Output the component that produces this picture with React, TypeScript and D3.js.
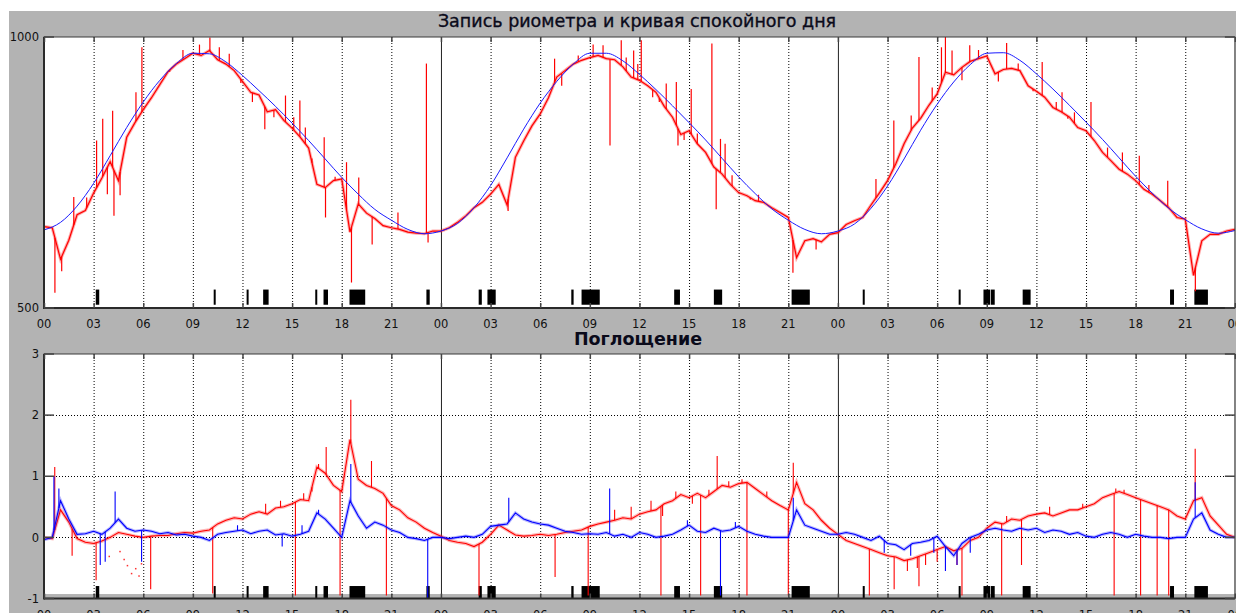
import React from "react";
import * as d3 from "d3";

// ---------- data ----------
const STEP = 0.5; // hours between samples
const tickHours = [0, 3, 6, 9, 12, 15, 18, 21, 24, 27, 30, 33, 36, 39, 42, 45, 48, 51, 54, 57, 60, 63, 66, 69, 72];
const tickLabels = ["00", "03", "06", "09", "12", "15", "18", "21", "00", "03", "06", "09", "12", "15", "18", "21", "00", "03", "06", "09", "12", "15", "18", "21", "00"];
const dayBounds = [24, 48];

// quiet-day curve, hourly values
const quietDay = [
  644, 658, 688, 730, 781, 833, 880, 920, 951, 970, 969, 954, 929, 901, 872, 841, 809, 775, 741, 710, 682, 662, 645, 637,
  642, 656, 685, 726, 777, 830, 878, 918, 950, 970, 970, 956, 931, 903, 873, 842, 810, 776, 742, 711, 683, 662, 645, 637,
  642, 655, 684, 725, 775, 828, 876, 917, 949, 970, 971, 957, 932, 904, 874, 843, 811, 777, 743, 712, 684, 663, 646, 638, 643,
];

// riometer record, every 0.5 h
const riometer = [
  650, 648, 590, 625, 672, 680, 712, 740, 770, 735, 815, 842, 866, 888, 912, 936, 950, 960, 970, 966, 975, 958, 950, 938,
  918, 898, 893, 862, 866, 846, 832, 815, 795, 728, 722, 735, 738, 640, 692, 675, 665, 652, 648, 645, 640, 638, 637, 642,
  642, 648, 658, 670, 685, 695, 710, 728, 690, 778, 808, 836, 858, 888, 926, 938, 950, 957, 962, 966, 960, 958, 945, 926,
  920, 910, 898, 872, 852, 820, 827, 803, 787, 760, 747, 728, 713, 707, 698, 695, 685, 676, 667, 593, 624, 628, 622, 636,
  639, 654, 661, 667, 690, 712, 735, 766, 803, 832, 850, 874, 895, 935, 930, 944, 955, 960, 965, 932, 940, 942, 938, 910,
  900, 889, 870, 862, 852, 833, 827, 809, 787, 772, 756, 747, 735, 719, 710, 698, 685, 667, 664, 560, 624, 636, 636, 642, 645,
];
const rioSpikeHours = [
  0.66, 1.07, 3.18, 3.55, 3.83, 4.15, 4.23, 5.56, 5.92, 10.03, 13.35, 14.6, 15.47, 15.8, 16.94, 17.02, 18.29, 18.59, 19.03,
  19.84, 21.4, 23.12, 23.22, 28.06, 30.87, 34.22, 34.9, 35.65, 36.11, 37.62, 38.23, 38.33, 39.13, 40.38, 40.64, 40.9, 41.18,
  45.28, 46.68, 50.3, 51.38, 52.43, 52.9, 53.7, 54.26, 54.5, 55.97, 58.2, 60.35, 61.55, 63.3, 65.2, 66.22, 67.94, 69.61,
  1.8, 2.58, 4.6, 7.6, 8.4, 9.4, 10.6, 11.2, 11.9, 12.6, 13.9, 15.1, 16.2, 17.6,
  31.3, 32.3, 33.2, 33.8, 35.2, 35.9, 36.8, 37.2, 38.7, 39.5, 41.6, 42.7, 43.2,
  54.9, 55.5, 56.5, 57.7, 58.9, 59.8, 61.2, 61.9, 62.3, 64.3, 66.8,
];
const rioSpikeValues = [
  528, 568, 809, 849, 710, 864, 670, 898, 981, 999, 830, 892, 883, 833, 815, 667, 769, 547, 741,
  617, 676, 951, 621, 679, 960, 800, 994, 975, 994, 914, 917, 800, 904, 988, 682, 812, 803,
  565, 608, 738, 846, 855, 963, 907, 981, 1000, 985, 989, 954, 898, 880, 787, 781, 735, 531,
  705, 704, 708, 936, 976, 986, 981, 969, 915, 880, 852, 852, 776, 742,
  910, 966, 986, 985, 962, 950, 889, 880, 810, 822, 745, 700, 709,
  975, 920, 976, 918, 951, 900, 880, 849, 861, 796, 727,
];

// absorption, every 0.5 h
const absRed = [
  0.0, -0.02, 0.45, 0.25, -0.02, -0.08, -0.1, -0.06, 0.0, 0.08, 0.05, 0.02, 0.0, 0.02, 0.03, 0.03, 0.06, 0.08, 0.07, 0.1, 0.12, 0.22, 0.28, 0.32,
  0.3, 0.38, 0.42, 0.38, 0.48, 0.5, 0.55, 0.62, 0.6, 1.15, 1.05, 0.85, 0.75, 1.6, 0.95, 0.85, 0.8, 0.72, 0.52, 0.45, 0.32, 0.25, 0.15, 0.08,
  0.02, -0.05, -0.08, -0.1, -0.15, -0.08, 0.05, 0.2, 0.12, 0.04, 0.02, 0.03, 0.05, 0.03, 0.05, 0.08, 0.1, 0.12, 0.18, 0.22, 0.25, 0.28, 0.32, 0.3,
  0.38, 0.42, 0.45, 0.55, 0.6, 0.7, 0.65, 0.72, 0.65, 0.75, 0.85, 0.82, 0.88, 0.9, 0.8, 0.7, 0.6, 0.52, 0.45, 0.9, 0.55, 0.45, 0.28, 0.15,
  0.05, -0.05, -0.1, -0.15, -0.2, -0.25, -0.3, -0.32, -0.38, -0.35, -0.3, -0.25, -0.2, -0.15, -0.22, -0.18, -0.05, 0.0, 0.15, 0.25, 0.22, 0.3, 0.28, 0.35,
  0.38, 0.4, 0.35, 0.4, 0.45, 0.45, 0.5, 0.55, 0.65, 0.7, 0.75, 0.7, 0.65, 0.6, 0.55, 0.5, 0.45, 0.35, 0.3, 0.6, 0.65, 0.35, 0.2, 0.05, 0.0,
];
const absBlue = [
  -0.04, 0.0, 0.6, 0.3, 0.05, 0.06, 0.1, 0.05, 0.15, 0.3, 0.15, 0.1, 0.12, 0.1, 0.06, 0.08, 0.04, 0.05, 0.02, 0.0, -0.05, 0.05, 0.08, 0.1,
  0.12, 0.06, 0.1, 0.12, 0.04, 0.06, 0.02, 0.05, 0.1, 0.4, 0.3, 0.15, 0.0, 0.6, 0.35, 0.15, 0.25, 0.2, 0.12, 0.08, 0.0, -0.02, -0.05, 0.0,
  0.0, -0.02, 0.0, 0.02, 0.0, 0.05, 0.18, 0.2, 0.22, 0.4, 0.3, 0.25, 0.22, 0.2, 0.15, 0.1, 0.08, 0.05, 0.06, 0.05, 0.08, 0.02, 0.05, 0.0,
  0.08, 0.05, 0.0, 0.02, 0.05, 0.12, 0.2, 0.1, 0.08, 0.15, 0.1, 0.12, 0.18, 0.1, 0.05, 0.02, 0.0, 0.0, 0.0, 0.45, 0.2, 0.15, 0.1, 0.05,
  0.05, 0.08, 0.05, 0.0, -0.05, 0.02, -0.1, -0.12, -0.2, -0.1, -0.08, -0.05, 0.02, -0.15, -0.3, -0.1, 0.0, 0.05, 0.12, 0.15, 0.12, 0.1, 0.15, 0.12,
  0.15, 0.08, 0.12, 0.1, 0.05, 0.08, 0.02, 0.0, 0.05, 0.08, 0.05, 0.0, 0.05, 0.02, 0.0, 0.0, -0.02, 0.0, 0.0, 0.3, 0.4, 0.12, 0.05, 0.0, 0.0,
];
const redSpikeHours = [
  0.65, 16.6, 17.06, 18.55, 19.8, 40.7, 45.3, 69.6,
  1.7, 3.15, 6.45, 10.2, 15.2, 17.9, 20.7, 26.3, 30.9, 32.9, 37.3, 39.7, 42.5, 45.0,
  49.9, 51.4, 52.9, 55.5, 57.9, 59.1, 64.7, 66.3, 67.3, 68.0,
  34.5, 35.5, 36.7, 37.4, 38.2, 39.2, 40.2, 41.4, 42.2, 43.7,
  52.2, 52.8, 53.3, 54.0, 55.2, 58.2, 60.8, 62.8, 64.8, 65.3,
  13.4, 14.3, 15.7, 16.2,
];
const redSpikeValues = [
  1.15, 1.2, 1.48, 2.25, 1.25, 1.33, 1.22, 1.45,
  -0.3, -0.7, -0.85, -0.92, -0.95, -0.95, -0.95, -0.95, -0.65, -0.95, -0.95, -0.95, -0.95, -0.95,
  -0.95, -0.85, -0.8, -0.95, -0.95, -0.45, -0.95, -0.95, -0.95, -0.95,
  0.45, 0.5, 0.6, 0.35, 0.75, 0.55, 0.78, 0.92, 0.95, 0.75,
  -0.55, -0.5, -0.45, -0.4, -0.45, 0.35, 0.5, 0.55, 0.8, 0.78,
  0.55, 0.6, 0.72, 0.75,
];
// scattered single red samples below zero (day 1, early morning)
const redDotHours = [4.55, 4.8, 5.0, 5.25, 5.5, 5.7, 5.85, 3.9];
const redDotValues = [-0.22, -0.35, -0.45, -0.58, -0.5, -0.62, -0.42, -0.3];
const blueSpikeHours = [
  0.6, 0.9, 4.3, 16.6, 18.55, 28.1, 34.2, 45.3, 69.6, 3.4, 3.7, 5.9, 23.2, 40.9, 54.5,
  11.7, 14.4, 15.6, 50.8, 52.4, 53.8, 55.2, 56.0, 38.9, 41.8,
];
const blueSpikeValues = [
  1.0, 0.8, 0.75, 0.45, 1.2, 0.65, 0.8, 0.65, 0.9, -0.45, -0.4, -0.4, -1.0, -0.95, -0.55,
  0.2, -0.15, 0.2, -0.25, -0.3, -0.25, -0.45, -0.25, 0.28, 0.25,
];

// marker blocks (hours)
const blockStart = [3.13, 10.26, 12.25, 13.25, 16.4, 16.9, 18.47, 23.12, 26.28, 26.81, 31.88, 32.5, 38.1, 40.5, 45.2, 49.5, 55.3, 56.8, 57.24, 59.17, 68.08, 69.55];
const blockEnd = [3.34, 10.37, 12.37, 13.58, 16.5, 17.17, 19.42, 23.32, 26.47, 27.31, 32.02, 33.6, 38.45, 41.0, 46.3, 49.62, 55.42, 57.2, 57.48, 59.65, 68.32, 70.37];

const title1 = "Запись риометра и кривая спокойного дня";
const title2 = "Поглощение";
const topYTicks = [500, 1000];
const botYTicks = [-1, 0, 1, 2, 3];
const botGrid = [0, 1, 2];

// ---------- layout ----------
const W = 1236, H = 613;
const X0 = 44, PXH = 16.54;
const GRAY = "#b3b3b3";
const FONT = "'DejaVu Sans', Verdana, sans-serif";

const x = d3.scaleLinear().domain([0, 72]).range([X0, X0 + 72 * PXH]);
const yT = d3.scaleLinear().domain([500, 1000]).range([308, 37]);
const yB = d3.scaleLinear().domain([-1, 3]).range([598.5, 354]);

function baseAt(arr: number[], t: number) {
  const f = t / STEP;
  const i = Math.floor(f);
  const a = arr[Math.max(0, Math.min(arr.length - 1, i))];
  const b = arr[Math.max(0, Math.min(arr.length - 1, i + 1))];
  return a + (b - a) * (f - i);
}

function Panel({ y, yTicks, grid, clipId, band, blockLo, blockHi, children, labelY }: any) {
  const [y0, y1] = y.domain();
  const top = y(y1), bot = y(y0);
  const left = x(0), right = x(72);
  return (
    <g>
      <rect x={left} y={top} width={right - left} height={bot - top} fill="#fff" />
      {band && <rect x={left} y={y(band)} width={right - left} height={bot - y(band)} fill={GRAY} />}
      {tickHours.filter(h => h > 0 && h < 72 && !dayBounds.includes(h)).map(h => (
        <line key={"g" + h} x1={x(h) + 0.5} x2={x(h) + 0.5} y1={top} y2={bot} stroke="#000" strokeWidth={1} strokeDasharray="1 2" />
      ))}
      {grid.map((v: number) => (
        <line key={"hg" + v} x1={left} x2={right} y1={Math.round(y(v)) + 0.5} y2={Math.round(y(v)) + 0.5} stroke="#000" strokeWidth={1} strokeDasharray="1 2" />
      ))}
      {dayBounds.map(h => (
        <line key={"d" + h} x1={x(h) + 0.5} x2={x(h) + 0.5} y1={top} y2={bot} stroke="#222" strokeWidth={1} />
      ))}
      {blockStart.map((s, i) => (
        <rect key={"b" + i} x={x(s)} y={y(blockHi)} width={Math.max(2, x(blockEnd[i]) - x(s))} height={y(blockLo) - y(blockHi)} fill="#000" />
      ))}
      <g clipPath={`url(#${clipId})`}>{children}</g>
      <rect x={left} y={top} width={right - left} height={bot - top} fill="none" stroke="#3a3a3a" strokeWidth={1} />
      <line x1={left} x2={left} y1={top} y2={bot + 1} stroke="#2a2a2a" strokeWidth={2} />
      <line x1={left} x2={right} y1={bot} y2={bot} stroke="#2a2a2a" strokeWidth={2} />
      {tickHours.map(h => (
        <g key={"t" + h}>
          <line x1={x(h) + 0.5} x2={x(h) + 0.5} y1={top} y2={top + 5} stroke="#444" strokeWidth={1.5} />
          <line x1={x(h) + 0.5} x2={x(h) + 0.5} y1={bot - 5} y2={bot} stroke="#444" strokeWidth={1.5} />
        </g>
      ))}
      {yTicks.map((v: number) => (
        <g key={"yt" + v}>
          <line x1={left} x2={left + 10} y1={y(v)} y2={y(v)} stroke="#444" strokeWidth={1.5} />
          <line x1={right - 10} x2={right} y1={y(v)} y2={y(v)} stroke="#444" strokeWidth={1.5} />
          <text x={39} y={y(v)} dy="0.36em" textAnchor="end" fontSize={11.5} fontFamily={FONT} fill="#111">{v}</text>
        </g>
      ))}
      {tickHours.map((h, i) => (
        <text key={"xl" + h} x={x(h)} y={labelY} textAnchor="middle" fontSize={11.5} fontFamily={FONT} fill="#111">{tickLabels[i]}</text>
      ))}
    </g>
  );
}

export default function App() {
  const lineT = d3.line<number>().x((_, i) => x(i * STEP)).y(d => yT(d));
  const lineQ = d3.line<number>().x((_, i) => x(i)).y(d => yT(d)).curve(d3.curveMonotoneX);
  const lineB = d3.line<number>().x((_, i) => x(i * STEP)).y(d => yB(d));
  const [bl, br] = [x(0), x(72)];
  return (
    <svg width={W} height={H} style={{ position: "fixed", left: 0, top: 0, background: "#fff" }}>
      <defs>
        <clipPath id="clipT"><rect x={bl} y={yT(1000)} width={br - bl} height={yT(500) - yT(1000)} /></clipPath>
        <clipPath id="clipB"><rect x={bl} y={yB(3)} width={br - bl} height={yB(-1) - yB(3)} /></clipPath>
      </defs>
      <rect x={9} y={11} width={W} height={H} fill={GRAY} />
      <text x={637} y={26.5} textAnchor="middle" fontSize={17.5} fontFamily={FONT} fill="#0a0a1a" stroke="#0a0a1a" strokeWidth={0.35}>{title1}</text>
      <text x={638} y={345} textAnchor="middle" fontSize={17.5} fontWeight="bold" fontFamily={FONT} fill="#0a0a1a">{title2}</text>

      <Panel y={yT} yTicks={topYTicks} grid={[]} clipId="clipT" blockLo={506} blockHi={534} labelY={327.5}>
        <path d={lineT(riometer) || ""} fill="none" stroke="#ff3030" strokeWidth={3.2} strokeOpacity={0.4} />
        <path d={lineT(riometer) || ""} fill="none" stroke="#ff0000" strokeWidth={1.2} />
        {rioSpikeHours.map((t, i) => (
          <line key={i} x1={x(t)} x2={x(t)} y1={yT(baseAt(riometer, t))} y2={yT(rioSpikeValues[i])} stroke="#ff0000" strokeWidth={1.2} />
        ))}
        <path d={lineQ(quietDay) || ""} fill="none" stroke="#1a1aff" strokeWidth={1} />
      </Panel>

      <Panel y={yB} yTicks={botYTicks} grid={botGrid} clipId="clipB" band={-0.927} blockLo={-1} blockHi={-0.796} labelY={619}>
        <path d={lineB(absRed) || ""} fill="none" stroke="#ff3030" strokeWidth={3.4} strokeOpacity={0.35} />
        <path d={lineB(absRed) || ""} fill="none" stroke="#ff0000" strokeWidth={1.1} />
        {redSpikeHours.map((t, i) => (
          <line key={"r" + i} x1={x(t)} x2={x(t)} y1={yB(baseAt(absRed, t))} y2={yB(redSpikeValues[i])} stroke="#ff0000" strokeWidth={1.1} />
        ))}
        {redDotHours.map((t, i) => (
          <rect key={"rd" + i} x={x(t)} y={yB(redDotValues[i])} width={1.5} height={1.5} fill="#ff3030" />
        ))}
        <path d={lineB(absBlue) || ""} fill="none" stroke="#3030ff" strokeWidth={3.2} strokeOpacity={0.35} />
        <path d={lineB(absBlue) || ""} fill="none" stroke="#0000ff" strokeWidth={1.1} />
        {blueSpikeHours.map((t, i) => (
          <line key={"bl" + i} x1={x(t)} x2={x(t)} y1={yB(baseAt(absBlue, t))} y2={yB(blueSpikeValues[i])} stroke="#0000ff" strokeWidth={1.1} />
        ))}
      </Panel>
    </svg>
  );
}
